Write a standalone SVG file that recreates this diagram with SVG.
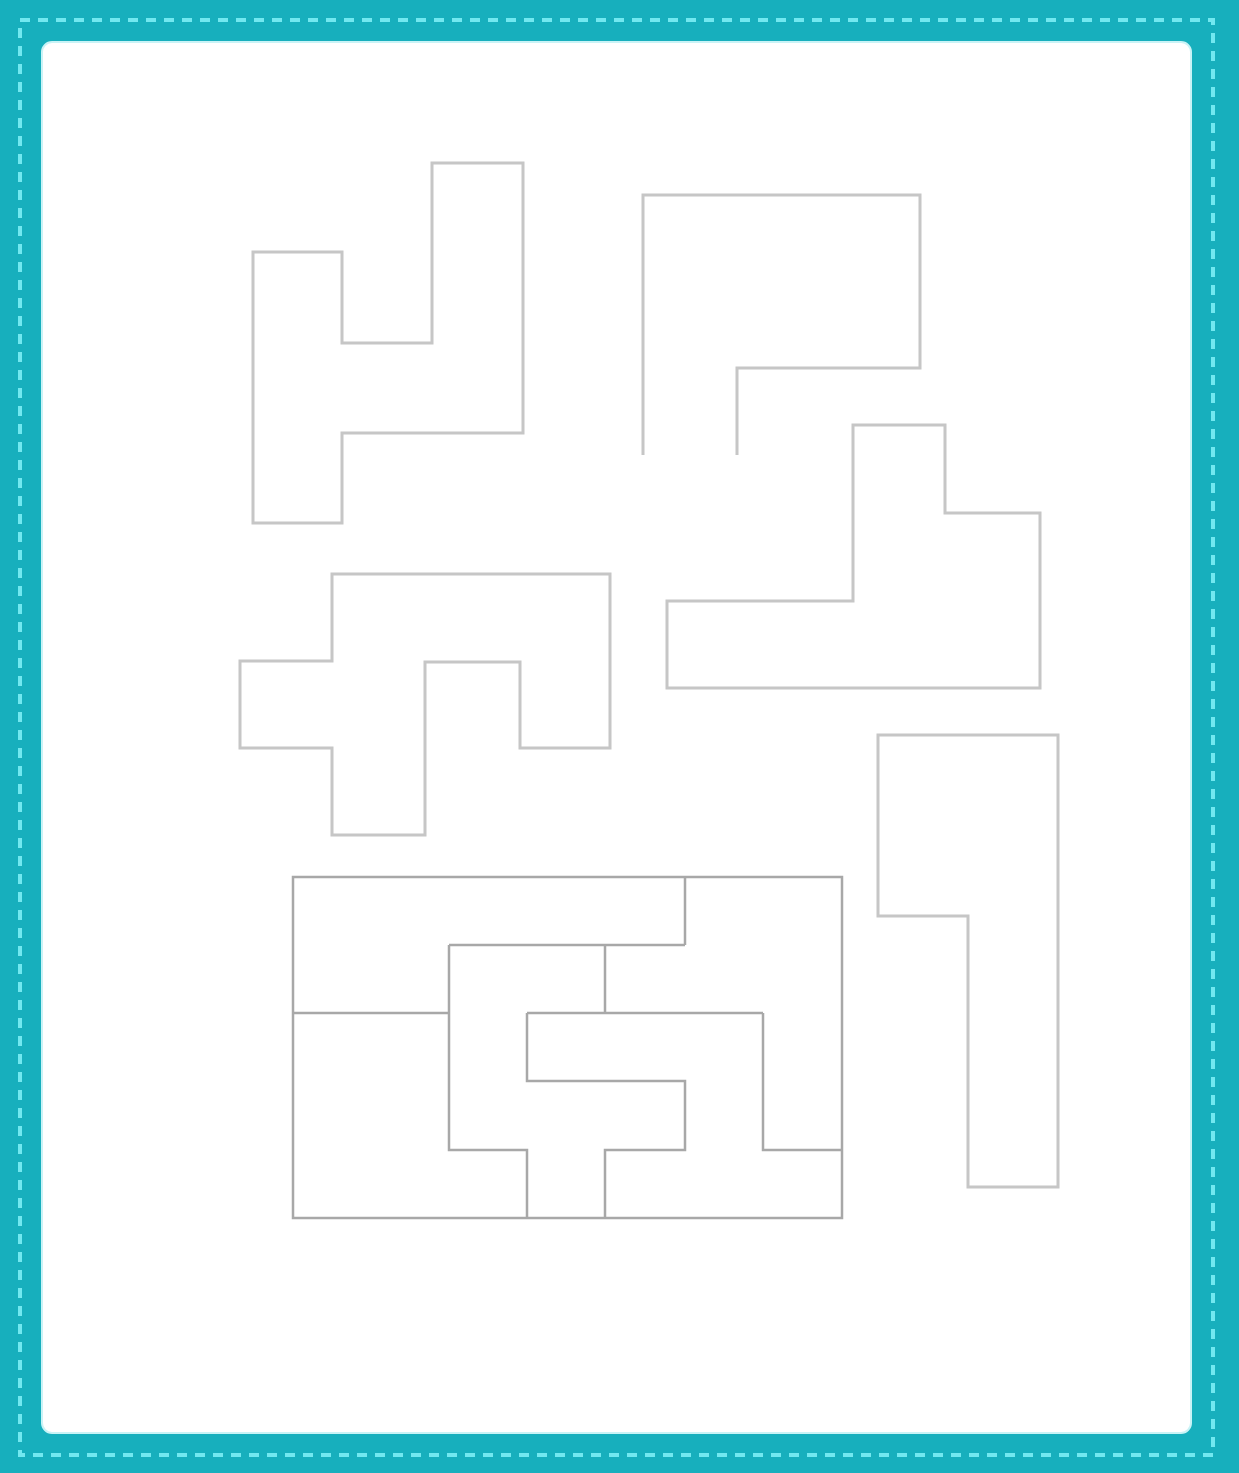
<svg xmlns="http://www.w3.org/2000/svg" width="1239" height="1473" viewBox="0 0 1239 1473">
<style>
.piece{fill:none;stroke:#c6c6c6;stroke-width:3;stroke-linejoin:miter}
.grid{fill:none;stroke:#a8a8a8;stroke-width:2.5}
</style>
<rect x="0" y="0" width="1239" height="1473" fill="#17afbd"/>
<rect x="20" y="20" width="1193" height="1435" fill="none" stroke="#72e8f0" stroke-width="4" stroke-dasharray="10 8"/>
<rect x="42" y="42" width="1149" height="1391" rx="10" fill="#ffffff" stroke="#c9f3f6" stroke-width="2"/>
<g id="piece-1"><path class="piece" d="M253,252 H342 V343 H432 V163 H523 V433 H342 V523 H253 Z"/></g>
<g id="piece-2"><path class="piece" d="M643,455 V195 H920 V368 H737 V455"/></g>
<g id="piece-3"><path class="piece" d="M667,601 H853 V425 H945 V513 H1040 V688 H667 Z"/></g>
<g id="piece-4"><path class="piece" d="M332,574 H610 V748 H520 V662 H425 V835 H332 V748 H240 V661 H332 Z"/></g>
<g id="piece-5"><path class="piece" d="M878,735 H1058 V1187 H968 V916 H878 Z"/></g>
<g id="rectangle">
<rect class="grid" x="293" y="877" width="549" height="341"/>
<path class="grid" d="M685,877 V945 M449,945 H685 M605,945 V1013 M293,1013 H449 M449,945 V1150 H527 V1218 M527,1013 H763 M527,1013 V1081 H685 V1150 H605 V1218 M763,1013 V1150 H842"/>
</g>
</svg>
